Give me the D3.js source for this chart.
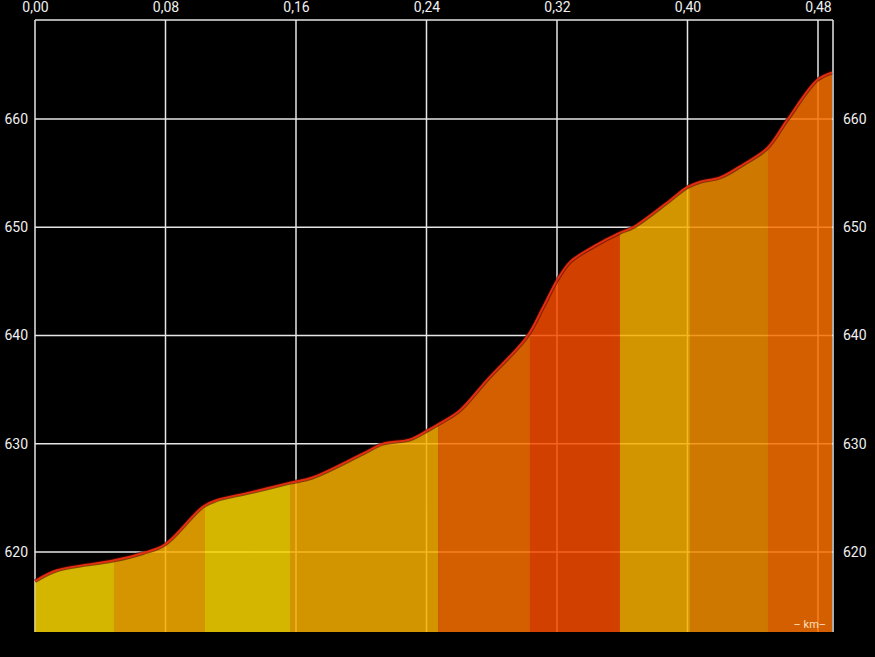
<!DOCTYPE html>
<html>
<head>
<meta charset="utf-8">
<script src="https://cdn.jsdelivr.net/npm/d3@7/dist/d3.min.js"></script>
<style>
  html, body { margin: 0; padding: 0; background: #000; }
  svg { display: block; }
  text { font-family: Roboto, "Noto Sans", sans-serif; }
</style>
</head>
<body>
<script>
// Distance (km) and elevation (m) along the profile
const distanceKm = [0.000, 0.0133, 0.0478, 0.0662, 0.0797, 0.1030, 0.1116, 0.1318, 0.1563, 0.1704,
  0.2011, 0.2133, 0.2299, 0.2403, 0.2483, 0.2605, 0.2771, 0.3016, 0.3114, 0.3200, 0.3280, 0.3421,
  0.3586, 0.3666, 0.3893, 0.3997, 0.4077, 0.4199, 0.4340, 0.4487, 0.4610, 0.4794, 0.4886];
const elevationM = [617.3, 618.3, 619.2, 619.9, 620.7, 624.2, 624.8, 625.5, 626.4, 626.9,
  629.1, 630.0, 630.4, 631.2, 631.9, 633.1, 635.9, 639.9, 642.6, 645.1, 646.8, 648.2,
  649.5, 650.0, 652.5, 653.7, 654.2, 654.6, 655.8, 657.3, 659.9, 663.6, 664.3];

// Gradient segments (start/end km) and their colours
const segmentStart = [0.000, 0.0484, 0.1042, 0.1563, 0.2471, 0.3034, 0.3586, 0.4015, 0.4493];
const segmentEnd   = [0.0484, 0.1042, 0.1563, 0.2471, 0.3034, 0.3586, 0.4015, 0.4493, 0.4892];
const segmentColor = ["#f9d500", "#f9b000", "#f9d600", "#f7b000", "#f97000", "#f74c00", "#f7b000", "#f38d00", "#f97000"];

const xTicks = [0, 0.08, 0.16, 0.24, 0.32, 0.40, 0.48];
const yTicks = [620, 630, 640, 650, 660];

const W = 875, H = 657;
const x = d3.scaleLinear().domain([0, 0.4892]).range([35, 833]);
const y = d3.scaleLinear().domain([612.6, 669.15]).range([632, 20]);

const svg = d3.select("body").append("svg").attr("width", W).attr("height", H);
svg.append("rect").attr("width", W).attr("height", H).attr("fill", "#000");

const data = distanceKm.map((d, i) => ({ d, e: elevationM[i] }));
const curve = d3.curveCatmullRom.alpha(0.5);

// Grid lines (under the semi-transparent fill)
const grid = svg.append("g").attr("stroke", "#e6e6e6").attr("stroke-width", 1.5);
grid.selectAll("line.v").data(xTicks).join("line")
  .attr("x1", d => x(d)).attr("x2", d => x(d))
  .attr("y1", y(669.15)).attr("y2", y(612.6));
grid.selectAll("line.h").data(yTicks).join("line")
  .attr("x1", x(0)).attr("x2", x(0.4892))
  .attr("y1", d => y(d)).attr("y2", d => y(d));
// frame: top, right
grid.append("line").attr("x1", x(0)).attr("x2", x(0.4892)).attr("y1", y(669.15)).attr("y2", y(669.15));
grid.append("line").attr("x1", x(0.4892)).attr("x2", x(0.4892)).attr("y1", y(669.15)).attr("y2", y(612.6));

// Area clip
const area = d3.area().x(d => x(d.d)).y0(y(612.6)).y1(d => y(d.e)).curve(curve);
svg.append("clipPath").attr("id", "areaClip").append("path").attr("d", area(data));

const fills = svg.append("g").attr("clip-path", "url(#areaClip)").attr("opacity", 0.85);
fills.selectAll("rect").data(segmentStart).join("rect")
  .attr("x", (d) => x(d))
  .attr("width", (d, i) => x(segmentEnd[i]) - x(d) + 0.5)
  .attr("y", y(669.15))
  .attr("height", y(612.6) - y(669.15))
  .attr("fill", (d, i) => segmentColor[i]);

// Profile line
const line = d3.line().x(d => x(d.d)).y(d => y(d.e)).curve(curve);
svg.append("path").attr("d", line(data))
  .attr("fill", "none").attr("stroke", "#4a0a00").attr("stroke-width", 4).attr("opacity", 0.6);
svg.append("path").attr("d", line(data))
  .attr("fill", "none").attr("stroke", "#e42c10").attr("stroke-width", 2);

// Axes
const fmt = d => d3.format(".2f")(d).replace(".", ",");
const topAxis = d3.axisTop(x).tickValues(xTicks).tickFormat(fmt).tickSize(0).tickPadding(8);
const gTop = svg.append("g").attr("transform", `translate(0,${y(669.15)})`).call(topAxis);
gTop.select(".domain").remove();
gTop.selectAll("text").attr("fill", "#f0f0f0").attr("font-size", 14);

const leftAxis = d3.axisLeft(y).tickValues(yTicks).tickFormat(d3.format("d")).tickSize(0).tickPadding(7);
const gLeft = svg.append("g").attr("transform", `translate(${x(0)},0)`).call(leftAxis);
gLeft.select(".domain").remove();
gLeft.selectAll("text").attr("fill", "#f0f0f0").attr("font-size", 14);

const rightAxis = d3.axisRight(y).tickValues(yTicks).tickFormat(d3.format("d")).tickSize(0).tickPadding(10);
const gRight = svg.append("g").attr("transform", `translate(${x(0.4892)},0)`).call(rightAxis);
gRight.select(".domain").remove();
gRight.selectAll("text").attr("fill", "#f0f0f0").attr("font-size", 14);

// unit label
svg.append("text").attr("x", x(0.4892) - 7).attr("y", y(612.6) - 4)
  .attr("text-anchor", "end").attr("font-size", 11).attr("fill", "#ffe0c0")
  .text("– km–");
</script>
</body>
</html>
